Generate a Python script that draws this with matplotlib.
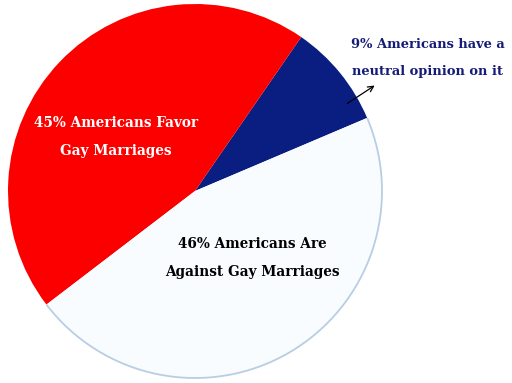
import matplotlib
matplotlib.use("Agg")
import matplotlib.pyplot as plt
from matplotlib.patches import Arc

# slice data (counter-clockwise from start angle)
labels = ['9% Americans have a\nneutral opinion on it',
          '45% Americans Favor\nGay Marriages',
          '46% Americans Are\nAgainst Gay Marriages']
shares = [9, 45, 46]
colors = ['#0a1e82', '#fc0000', '#f8fcff']

plt.rcParams['font.family'] = ['DejaVu Serif']

fig = plt.figure(figsize=(5.12, 3.83), dpi=100)
ax = fig.add_axes([0, 0, 1, 1])

# y axis is inverted, so counterclock=False gives the visual ccw order
wedges, _ = ax.pie(shares, colors=colors, startangle=-23, counterclock=False,
                   center=(195, 191), radius=187, frame=True,
                   wedgeprops=dict(linewidth=0, edgecolor='none'))
w = wedges[2]
ax.add_patch(Arc(w.center, 2 * w.r, 2 * w.r, theta1=w.theta1, theta2=w.theta2,
                 color='#b9cde3', lw=1.3))
ax.set_xlim(0, 512)
ax.set_ylim(383, 0)
ax.set_aspect('equal')
ax.axis('off')

ax.text(116, 137, labels[1], color='white', fontsize=9.8, fontweight='bold',
        ha='center', va='center', linespacing=2.35)
ax.text(252, 258, labels[2], color='black', fontsize=9.8, fontweight='bold',
        ha='center', va='center', linespacing=2.35)
ax.text(428, 58, labels[0], color='#141c78', fontsize=9.4, fontweight='bold',
        ha='center', va='center', linespacing=2.3)
ax.annotate('', xy=(377, 84), xytext=(345, 105),
            arrowprops=dict(arrowstyle='->', color='black', lw=0.9))

fig.savefig('out.png', dpi=100)
